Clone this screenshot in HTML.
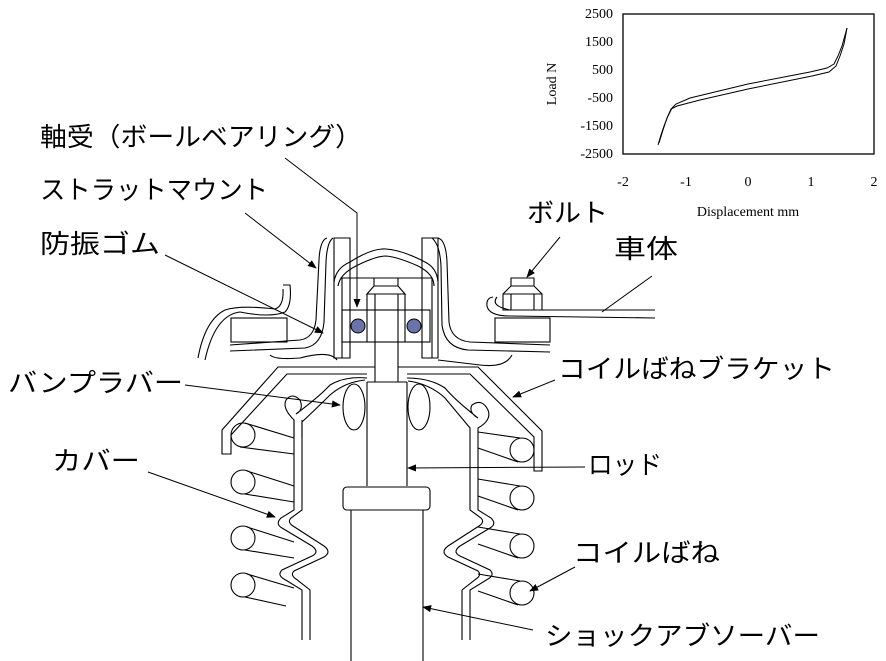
<!DOCTYPE html>
<html><head><meta charset="utf-8"><style>
html,body{margin:0;padding:0;background:#fff;}
svg{display:block;}
.j{font-family:"Liberation Sans","Noto Sans CJK JP",sans-serif;font-size:26px;fill:#000;}
.s{font-family:"Liberation Serif",serif;font-size:14px;fill:#000;}
</style></head><body>
<svg width="886" height="661" viewBox="0 0 886 661" xmlns="http://www.w3.org/2000/svg">
<defs><marker id="a" viewBox="0 0 10 10" refX="9" refY="5" markerWidth="9" markerHeight="9" orient="auto-start-reverse"><path d="M0,1 L10,5 L0,9 z" fill="#000"/></marker></defs>
<rect width="886" height="661" fill="#fff"/>
<!-- chart -->
<rect x="623" y="14" width="251" height="140" fill="none" stroke="#000" stroke-width="1.3"/>
<g class="s" text-anchor="end">
<text x="613" y="18">2500</text><text x="613" y="46">1500</text><text x="613" y="74">500</text>
<text x="613" y="102">-500</text><text x="613" y="130">-1500</text><text x="613" y="158">-2500</text></g>
<g class="s" text-anchor="middle">
<text x="623" y="186">-2</text><text x="686" y="186">-1</text><text x="748" y="186">0</text>
<text x="811" y="186">1</text><text x="874" y="186">2</text>
<text x="748" y="216">Displacement mm</text>
<text transform="translate(556,84) rotate(-90)">Load N</text></g>
<g fill="none" stroke="#000" stroke-width="1">
<path d="M658,145 L661,135 L664,126 L668,116 L672,108 L676,104 L690,98 L748,84 L810,72 L827,68 L834,64 L838,56 L842,46 L847,28"/>
<path d="M659,143 L663,130 L667,118 L671,109 L677,106 L700,100 L748,89 L812,76 L829,72 L836,66 L840,56 L844,44 L847,28"/>
</g>
<!-- labels -->
<g class="j">
<text x="40" y="146" textLength="322" lengthAdjust="spacingAndGlyphs">軸受（ボールベアリング）</text>
<text x="40" y="199" textLength="228" lengthAdjust="spacingAndGlyphs">ストラットマウント</text>
<text x="40" y="253" textLength="120" lengthAdjust="spacingAndGlyphs">防振ゴム</text>
<text x="527" y="222" textLength="81" lengthAdjust="spacingAndGlyphs">ボルト</text>
<text x="614" y="258" textLength="64" lengthAdjust="spacingAndGlyphs">車体</text>
<text x="558" y="378" textLength="277" lengthAdjust="spacingAndGlyphs">コイルばねブラケット</text>
<text x="8" y="392" textLength="175" lengthAdjust="spacingAndGlyphs">バンプラバー</text>
<text x="52" y="470" textLength="88" lengthAdjust="spacingAndGlyphs">カバー</text>
<text x="588" y="474" textLength="74" lengthAdjust="spacingAndGlyphs">ロッド</text>
<text x="573" y="562" textLength="147" lengthAdjust="spacingAndGlyphs">コイルばね</text>
<text x="545" y="645" textLength="275" lengthAdjust="spacingAndGlyphs">ショックアブソーバー</text>
</g>
<!-- leaders -->
<g fill="none" stroke="#000" stroke-width="1">
<path d="M285,158 L357,213 L357,307" marker-end="url(#a)"/>
<path d="M245,213 L316,268" marker-end="url(#a)"/>
<path d="M165,255 L323,333" marker-end="url(#a)"/>
<path d="M560,237 L527,277" marker-end="url(#a)"/>
<path d="M652,276 L602,312"/>
<path d="M555,380 L513,397" marker-end="url(#a)"/>
<path d="M185,385 L340,405" marker-end="url(#a)"/>
<path d="M148,472 L275,517" marker-end="url(#a)"/>
<path d="M585,467 L408,468" marker-end="url(#a)"/>
<path d="M575,567 L530,591" marker-end="url(#a)"/>
<path d="M533,630 L423,607" marker-end="url(#a)"/>
</g>
<!-- mechanism -->
<g fill="none" stroke="#000" stroke-width="1.1">
<path d="M334,238 L350,238 L350,358 L334,358 Z"/>
<path d="M422,238 L438,238 L438,358 L422,358 Z"/>
<path d="M327,238 Q320,240 319,260 L316,320 Q314,338 300,340 L230,345"/>
<path d="M333,238 Q327,242 326,262 L324,322 Q322,345 305,348 L230,351"/>
<path d="M438,238 Q446,240 447,262 L449,322 Q451,340 470,342 L550,345"/>
<path d="M432,238 Q440,245 441,266 L442,325 Q445,348 468,350 L550,352"/>
<path d="M334,282 Q336,268 350,262 Q372,248 386,249 Q402,250 425,262 Q437,268 438,282"/>
<path d="M338,286 Q340,274 356,266 Q376,256 386,256 Q398,257 418,266 Q434,274 434,286"/>
<path d="M342,278 L432,278 M342,278 L342,358 M432,278 L432,358"/>
<rect x="342" y="310" width="88" height="32"/>
<path d="M374,278 L374,286 L398,286 L398,278 M374,286 L367,294 L405,294 L398,286 M367,294 L367,342 M405,294 L405,342 M375,294 L375,342 M398,294 L398,342"/>
<path d="M375,342 L375,382 M398,342 L398,382 M375,382 L398,382"/>
<rect x="231" y="318" width="56" height="24"/>
<rect x="495" y="318" width="55" height="24"/>
<path d="M283,285 L290,285 Q292,305 285,312 Q270,318 240,312 Q215,315 205,360"/>
<path d="M283,289 Q284,306 275,309 Q240,305 225,310 Q205,320 198,358"/>
<path d="M270,355 Q275,360 300,358 Q330,350 337,360"/>
<path d="M512,355 Q505,368 480,365 Q455,362 438,360"/>
<path d="M511,278 L534,278 L534,286 L511,286 Z M511,286 L503,294 L503,310 L542,310 L542,294 L534,286 M511,294 L511,310 M534,294 L534,310 M503,294 L542,294"/>
<path d="M493,297 Q486,298 487,306 Q489,316 510,316 L655,318"/>
<path d="M497,297 Q490,306 510,310 L655,310"/>
<path d="M375,367 L278,367 L222,430 L222,454 L231,454 L231,435 L287,374 L367,374"/>
<path d="M398,367 L478,367 L542,431 L542,471 L534,471 L534,437 L470,374 L407,374"/>
<path d="M367,382 L367,486 M407,382 L407,486 M367,382 L407,382"/>
<rect x="343" y="487" width="87" height="23" rx="4"/>
<path d="M351,510 L351,661 M423,510 L423,661"/>
<ellipse cx="354" cy="407" rx="11" ry="23"/>
<ellipse cx="419" cy="407" rx="11" ry="23"/>
<path d="M294,438 L294,420 Q282,408 286,400 Q292,392 300,400 Q304,410 296,414 Q320,396 330,385 Q345,376 367,378"/>
<path d="M302,438 L302,422 Q320,405 330,395 Q345,382 365,380"/>
<path d="M478,448 L478,428 Q492,420 488,410 Q482,398 472,405 Q468,412 478,418 Q455,400 445,388 Q430,378 407,378"/>
<path d="M470,448 L470,428 Q455,410 445,398 Q430,384 408,381"/>
<path d="M294,420 L294,510 L281,518 Q275,524 282,528 L312,546 Q320,552 312,556 L282,570 Q277,575 284,579 L302,590 L302,640"/>
<path d="M302,420 L302,510 L291,518 Q287,522 293,526 L324,546 Q332,552 324,557 L294,571 Q290,575 296,579 L310,590 L310,640"/>
<path d="M478,448 L478,510 L491,518 Q497,524 490,528 L460,546 Q452,552 460,556 L490,570 Q495,575 488,579 L470,590 L470,640"/>
<path d="M470,448 L470,510 L481,518 Q485,522 479,526 L448,546 Q440,552 448,557 L478,571 Q482,575 476,579 L462,590 L462,640"/>
<circle cx="243" cy="435" r="12"/><circle cx="243" cy="482" r="12"/><circle cx="243" cy="538" r="12"/><circle cx="243" cy="585" r="12"/>
<path d="M245,423 L294,438 M240,447 L294,454 M247,471 L294,486 M245,494 L294,502 M247,527 L294,542 M245,550 L294,558 M247,574 L294,588 M245,597 L286,606"/>
<circle cx="522" cy="450" r="12"/><circle cx="522" cy="498" r="12"/><circle cx="522" cy="546" r="12"/><circle cx="522" cy="593" r="12"/>
<path d="M478,432 L520,438 M478,448 L518,462 M478,479 L520,486 M478,496 L518,510 M478,527 L520,534 M478,544 L518,558 M478,574 L520,581 M478,591 L518,605"/>
</g>
<circle cx="358" cy="326" r="7" fill="#6b74a8" stroke="#000" stroke-width="1"/>
<circle cx="414" cy="326" r="7" fill="#6b74a8" stroke="#000" stroke-width="1"/>
</svg>
</body></html>
